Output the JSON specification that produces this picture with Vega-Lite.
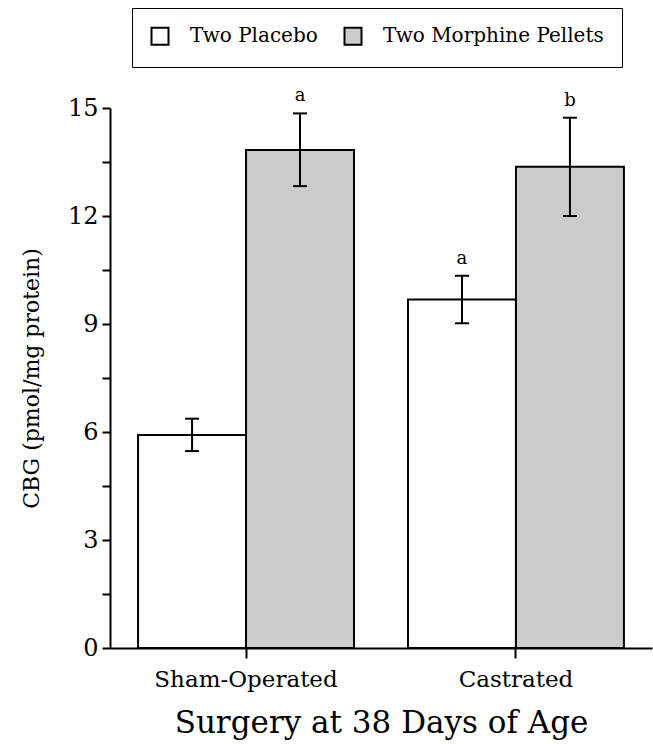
{
  "$schema": "https://vega.github.io/schema/vega-lite/v6.json",
  "autosize": {"type": "none"},
  "padding": {"left": 110, "top": 108, "right": 1, "bottom": 96},
  "width": 542,
  "height": 540,
  "background": "white",
  "config": {
    "font": "DejaVu Serif",
    "view": {"stroke": null},
    "axis": {"domainColor": "black", "domainWidth": 2, "tickColor": "black", "tickWidth": 2, "labelColor": "black", "titleColor": "black", "grid": false, "titleFontWeight": "normal", "labelFont": "DejaVu Serif", "titleFont": "DejaVu Serif"},
    "legend": {"labelFont": "DejaVu Serif"}
  },
  "data": {"values": [
    {"surgery": "Sham-Operated", "treatment": "Two Placebo", "mean": 5.92, "lo": 5.47, "hi": 6.37, "sig": ""},
    {"surgery": "Sham-Operated", "treatment": "Two Morphine Pellets", "mean": 13.83, "lo": 12.83, "hi": 14.85, "sig": "a"},
    {"surgery": "Castrated", "treatment": "Two Placebo", "mean": 9.68, "lo": 9.02, "hi": 10.34, "sig": "a"},
    {"surgery": "Castrated", "treatment": "Two Morphine Pellets", "mean": 13.37, "lo": 12.0, "hi": 14.73, "sig": "b"}
  ]},
  "encoding": {
    "x": {
      "field": "surgery", "type": "nominal", "sort": ["Sham-Operated", "Castrated"],
      "scale": {"paddingInner": 0.2, "paddingOuter": 0.104},
      "axis": {"title": "Surgery at 38 Days of Age", "labelAngle": 0, "labelFontSize": 23, "labelLimit": 300, "tickSize": 10, "labelPadding": 10, "titleFontSize": 31, "titlePadding": 17}
    },
    "xOffset": {"field": "treatment", "type": "nominal", "sort": ["Two Placebo", "Two Morphine Pellets"], "scale": {"paddingInner": 0, "paddingOuter": 0}}
  },
  "layer": [
    {
      "mark": {"type": "bar", "stroke": "black", "strokeWidth": 2},
      "encoding": {
        "y": {
          "field": "mean", "type": "quantitative",
          "scale": {"domain": [0, 15], "nice": false},
          "axis": {
            "title": "CBG (pmol/mg protein)",
            "values": [0, 1.5, 3, 4.5, 6, 7.5, 9, 10.5, 12, 13.5, 15],
            "labelExpr": "datum.value % 3 === 0 ? datum.label : ''",
            "tickSize": 8, "labelFontSize": 24, "labelPadding": 4,
            "titleFontSize": 22, "titlePadding": 24
          }
        },
        "color": {
          "field": "treatment", "type": "nominal", "sort": ["Two Placebo", "Two Morphine Pellets"],
          "scale": {"range": ["white", "#cccccc"]},
          "legend": {
            "title": null, "orient": "none", "legendX": 22, "legendY": -100, "direction": "horizontal",
            "strokeColor": "black", "fillColor": "white", "padding": 18, "labelLimit": 400,
            "symbolType": "square", "symbolSize": 289, "symbolStrokeColor": "black", "symbolStrokeWidth": 2,
            "labelFontSize": 20, "labelOffset": 20, "columnPadding": 22, "labelColor": "black"
          }
        }
      }
    },
    {
      "mark": {"type": "rule", "strokeWidth": 2, "color": "black"},
      "encoding": {"y": {"field": "lo", "type": "quantitative"}, "y2": {"field": "hi"}}
    },
    {
      "mark": {"type": "tick", "thickness": 2, "size": 14, "color": "black", "opacity": 1},
      "encoding": {"y": {"field": "lo", "type": "quantitative"}}
    },
    {
      "mark": {"type": "tick", "thickness": 2, "size": 14, "color": "black", "opacity": 1},
      "encoding": {"y": {"field": "hi", "type": "quantitative"}}
    },
    {
      "mark": {"type": "text", "fontSize": 18, "dy": -12, "baseline": "alphabetic", "color": "black"},
      "encoding": {"y": {"field": "hi", "type": "quantitative"}, "text": {"field": "sig"}}
    }
  ]
}
